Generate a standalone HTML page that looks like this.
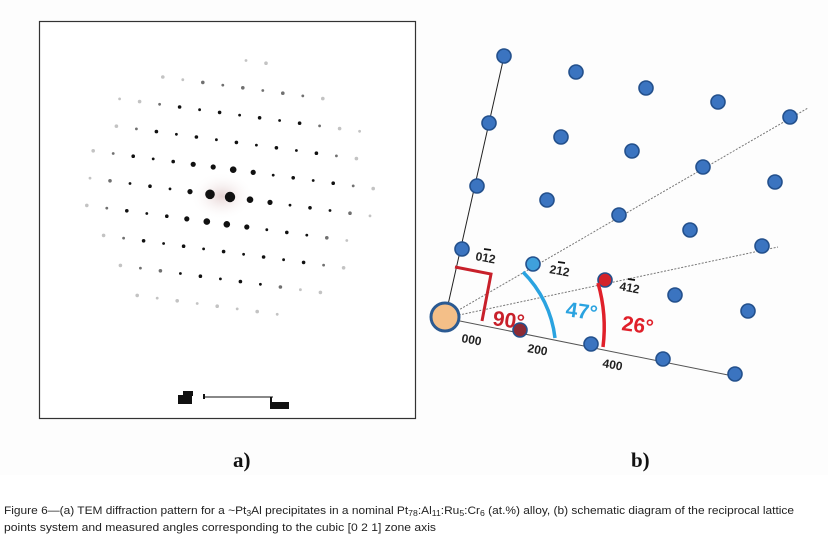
<!DOCTYPE html>
<html><head><meta charset="utf-8"><style>
html,body{margin:0;padding:0;background:#fff;width:828px;height:551px;overflow:hidden}
</style></head><body>
<svg id="s" width="828" height="551" xmlns="http://www.w3.org/2000/svg" font-family="Liberation Sans, sans-serif">
<rect x="0" y="0" width="828" height="475" fill="#fdfdfd"/>
<rect x="39.5" y="21.5" width="376" height="397" fill="#fff" stroke="#333" stroke-width="1.2"/>
<defs><radialGradient id="halo"><stop offset="0" stop-color="#c9a0a0" stop-opacity="0.45"/><stop offset="1" stop-color="#fff" stop-opacity="0"/></radialGradient></defs>
<g id="spots"></g>
<!-- scale bar -->
<g fill="#111" stroke="#111">
<rect x="178" y="395" width="14" height="9" stroke="none"/>
<rect x="183" y="391" width="10" height="5" stroke="none"/>
<rect x="203" y="394" width="2" height="5" stroke="none"/>
<line x1="205" y1="397" x2="273" y2="397" stroke-width="1"/>
<rect x="270" y="397" width="2" height="7" stroke="none"/>
<rect x="270" y="402" width="19" height="7" stroke="none"/>
</g>
<!-- panel b -->
<g stroke-width="1">
<line x1="445" y1="318" x2="505" y2="52" stroke="#222"/>
<line x1="445" y1="318" x2="738" y2="377" stroke="#555"/>
<line x1="445" y1="318" x2="808" y2="108" stroke="#777" stroke-dasharray="2,1.5"/>
<line x1="445" y1="318" x2="778" y2="247" stroke="#777" stroke-dasharray="2,1.5"/>
</g>
<g fill="#3b74c0" stroke="#23508c" stroke-width="1.6">
<circle cx="504" cy="56" r="7"/><circle cx="576" cy="72" r="7"/><circle cx="646" cy="88" r="7"/><circle cx="718" cy="102" r="7"/><circle cx="790" cy="117" r="7"/>
<circle cx="489" cy="123" r="7"/><circle cx="561" cy="137" r="7"/><circle cx="632" cy="151" r="7"/><circle cx="703" cy="167" r="7"/><circle cx="775" cy="182" r="7"/>
<circle cx="477" cy="186" r="7"/><circle cx="547" cy="200" r="7"/><circle cx="619" cy="215" r="7"/><circle cx="690" cy="230" r="7"/><circle cx="762" cy="246" r="7"/>
<circle cx="462" cy="249" r="7"/><circle cx="533" cy="264" r="7" fill="#3fa0dc"/><circle cx="605" cy="280" r="7" fill="#d3232a"/><circle cx="675" cy="295" r="7"/><circle cx="748" cy="311" r="7"/>
<circle cx="520" cy="330" r="7" fill="#8b2a35"/><circle cx="591" cy="344" r="7"/><circle cx="663" cy="359" r="7"/><circle cx="735" cy="374" r="7"/>
</g>
<circle cx="445" cy="317" r="14" fill="#f4bf88" stroke="#2b5a92" stroke-width="3"/>
<polyline points="455,267 491,274 482,321" fill="none" stroke="#c8202a" stroke-width="3"/>
<path d="M523,272 A111,111 0 0 1 555,338" fill="none" stroke="#2aa3e0" stroke-width="3.5"/>
<path d="M598,283 A160,160 0 0 1 603,347" fill="none" stroke="#e0202a" stroke-width="3.5"/>
<g font-size="21" font-weight="bold">
<text x="492" y="325" fill="#c8202a" transform="rotate(8 492 325)">90°</text>
<text x="565" y="316" fill="#2aa3e0" transform="rotate(8 565 316)">47°</text>
<text x="621" y="330" fill="#e0202a" transform="rotate(8 621 330)">26°</text>
</g>
<g font-size="12" font-weight="bold" fill="#222">
<text x="461" y="342" transform="rotate(10 461 342)">000</text>
<text x="527" y="352" transform="rotate(10 527 352)">200</text>
<text x="602" y="367" transform="rotate(10 602 367)">400</text>
<text x="475" y="260" transform="rotate(10 475 260)">012</text>
<text x="549" y="273" transform="rotate(10 549 273)">212</text>
<text x="619" y="290" transform="rotate(10 619 290)">412</text>
</g>
<g stroke="#111" stroke-width="1.8">
<line x1="484" y1="249" x2="491" y2="250"/><line x1="558" y1="262" x2="565" y2="263"/><line x1="628" y1="279" x2="635" y2="280"/>
</g>
<g font-family="Liberation Serif, serif" font-weight="bold" font-size="21" fill="#111">
<text x="233" y="467">a)</text><text x="631" y="467">b)</text>
</g>
<g font-size="11" fill="#222">
<text x="4" y="514" textLength="790" lengthAdjust="spacingAndGlyphs">Figure 6—(a) TEM diffraction pattern for a ~Pt<tspan font-size="8" dy="2">3</tspan><tspan dy="-2">Al precipitates in a nominal Pt</tspan><tspan font-size="8" dy="2">78</tspan><tspan dy="-2">:Al</tspan><tspan font-size="8" dy="2">11</tspan><tspan dy="-2">:Ru</tspan><tspan font-size="8" dy="2">5</tspan><tspan dy="-2">:Cr</tspan><tspan font-size="8" dy="2">6</tspan><tspan dy="-2"> (at.%) alloy, (b) schematic diagram of the reciprocal lattice</tspan></text>
<text x="4" y="531" textLength="432" lengthAdjust="spacingAndGlyphs">points system and measured angles corresponding to the cubic [0 2 1] zone axis</text>
</g>
</svg>
<script>
(function(){
var g=document.getElementById('spots'),ns='http://www.w3.org/2000/svg';
var ox=230,oy=197,ax=20,ay=2.7,bx=-3.2,by=27.3;
function add(t,a){var e=document.createElementNS(ns,t);for(var k in a)e.setAttribute(k,a[k]);g.appendChild(e);}
add('ellipse',{cx:222,cy:196,rx:32,ry:24,fill:'url(#halo)'});
for(var i=-10;i<=10;i++)for(var j=-6;j<=6;j++){
 var x=ox+i*ax+j*bx,y=oy+i*ay+j*by;
 var dx=(x-227)/150,dy=(y-190)/132,d=Math.sqrt(dx*dx+dy*dy);
 if(d>1)continue;
 var r;
 if(i==0&&j==0)r=5.2;else if(i==-1&&j==0)r=4.8;
 else {var dd=Math.sqrt((x-222)*(x-222)+(y-196)*(y-196));r=dd<30?3.3:(dd<50?2.6:((i+j)%2==0?1.8:1.4));}
 var op=d>0.88?0.25:(d>0.75?0.6:1);
 add('circle',{cx:x.toFixed(1),cy:y.toFixed(1),r:r,fill:'#111','fill-opacity':op});
}
})();
</script>
</body></html>
